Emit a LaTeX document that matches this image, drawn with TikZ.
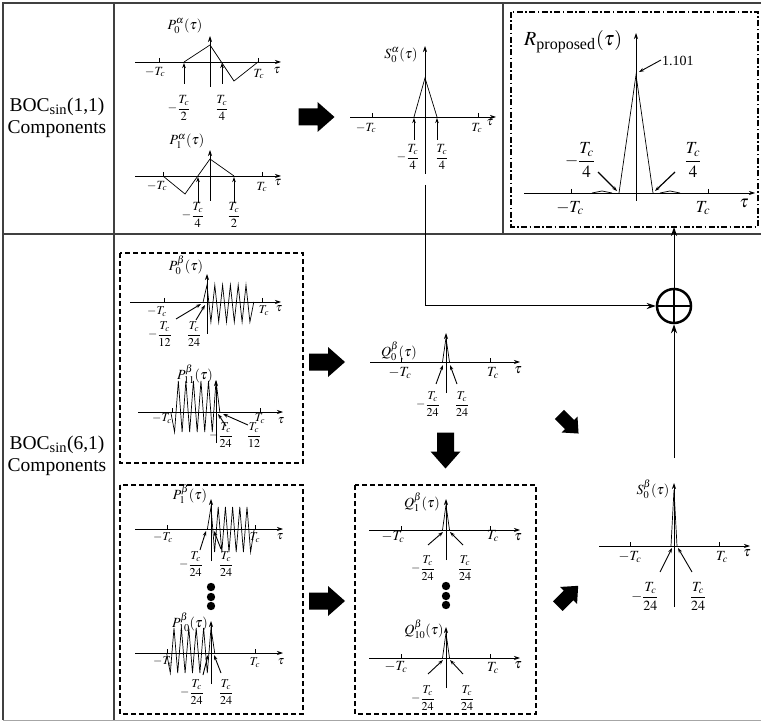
\documentclass[tikz,border=0pt]{standalone}
\usepackage{amsmath}
\usepackage{mathptmx}
\usepackage{fontspec}
\setmainfont{Liberation Serif}
\usetikzlibrary{arrows.meta}
\newcommand{\axs}[8]{%
  \draw[ax] (#1,#3) -- (#2,#3);
  \draw[ax] (#4,#5) -- (#4,#6);
  \draw[tk] (#7,#3-4) -- (#7,#3) (#8,#3-4) -- (#8,#3);}
\tikzset{
  ax/.style={line width=0.7pt,-{Stealth[length=6pt,width=4pt]}},
  cv/.style={line width=0.7pt},
  tk/.style={line width=0.7pt},
  ann/.style={line width=0.9pt,-{Stealth[length=5pt,width=3.5pt]}},
  ttl/.style={inner sep=0pt,font=\fontsize{14}{14}\selectfont},
  lb/.style={inner sep=0pt,font=\fontsize{12.5}{12.5}\selectfont},
  sm/.style={inner sep=0pt,font=\fontsize{12}{12}\selectfont},
  md/.style={inner sep=0pt,font=\fontsize{14}{14}\selectfont},
  bg/.style={inner sep=0pt,font=\fontsize{17}{17}\selectfont},
  dbox/.style={line width=1.4pt,dash pattern=on 5pt off 3pt},
  dashdotbox/.style={line width=1.4pt,dash pattern=on 6pt off 2.5pt on 1.5pt off 2.5pt},
  tbl/.style={line width=1.1pt,black!75},
  conn/.style={line width=1pt,-{Stealth[length=9pt,width=6pt]}},
  ltxt/.style={inner sep=0pt,align=center,font=\fontsize{19.5}{22}\selectfont},
  fatarr/.pic={\fill[black] (-18,-8.5) -- (1,-8.5) -- (1,-15) -- (18,0) -- (1,15) -- (1,8.5) -- (-18,8.5) -- cycle;}
}
\begin{document}
\begin{tikzpicture}[x=1pt,y=-1pt]
\useasboundingbox (0,0) rectangle (761,722);
% table
\draw[tbl] (2,3) -- (761,3);
\draw[tbl] (3,3) -- (3,720);
\draw[tbl] (114,3) -- (114,720);
\draw[tbl] (3,234) -- (761,234);
\draw[tbl] (503,3) -- (503,234);
\draw[line width=1pt,black!35] (3,720) -- (761,720);
\node[ltxt] (boc1) at (57,118) {BOC\textsubscript{sin}(1,1)\\Components};
\node[ltxt] (boc2) at (57,456) {BOC\textsubscript{sin}(6,1)\\Components};

% ---------- P0 alpha
\node[ttl] (p0a) at (185,26) {$P_0^{\alpha}(\tau)$};
\axs{135}{281}{62}{210}{87}{36}{159}{258}
\draw[cv] (184,62) -- (210,45) -- (234,81) -- (258,62);
\draw[ann] (184,84) -- (184,63);
\draw[ann] (222,84) -- (222,63);
\node[lb] (p0a-m) at (155,72) {$-T_c$};
\node[lb] (p0a-p) at (259,74) {$T_c$};
\node[lb] (p0a-t) at (277,71) {$\tau$};
\node[lb] (p0a-f1) at (179,108) {$-\dfrac{T_c}{2}$};
\node[lb] (p0a-f2) at (222,108) {$\dfrac{T_c}{4}$};

% ---------- P1 alpha
\node[ttl] (p1a) at (187,141) {$P_1^{\alpha}(\tau)$};
\axs{135}{281}{176}{210}{201}{150}{163}{262}
\draw[cv] (163,176) -- (185,194) -- (210,159) -- (234,176);
\draw[ann] (198,203) -- (198,177);
\draw[ann] (234,203) -- (234,177);
\node[lb] (p1a-m) at (157,186) {$-T_c$};
\node[lb] (p1a-p) at (262,187) {$T_c$};
\node[lb] (p1a-t) at (278,183) {$\tau$};
\node[lb] (p1a-f1) at (193,215) {$-\dfrac{T_c}{4}$};
\node[lb] (p1a-f2) at (234,215) {$\dfrac{T_c}{2}$};

% ---------- S0 alpha
\node[ttl] (s0a) at (401,55) {$S_0^{\alpha}(\tau)$};
\axs{350}{496}{117}{425}{174}{46}{372}{478}
\draw[cv] (414,117) -- (425,78) -- (437,117);
\draw[ann] (414,140) -- (414,118);
\draw[ann] (437,140) -- (437,118);
\node[lb] (s0a-m) at (366,128) {$-T_c$};
\node[lb] (s0a-p) at (477,128) {$T_c$};
\node[lb] (s0a-t) at (490,123) {$\tau$};
\node[lb] (s0a-f1) at (408,157) {$-\dfrac{T_c}{4}$};
\node[lb] (s0a-f2) at (442,157) {$\dfrac{T_c}{4}$};
\coordinate (s0a-out) at (425,185);

% ---------- R proposed
\draw[dashdotbox] (511,12) rectangle (758,227);
\node[anchor=base west,inner sep=0pt] (rlab) at (524,46) {{\fontsize{20}{20}\selectfont$R$}{\fontsize{16}{16}\selectfont\raisebox{-4pt}{proposed}}\hspace{1pt}{\fontsize{20}{20}\selectfont$(\tau)$}};
\axs{524}{755}{193}{636}{201}{33}{571}{708}
\draw[cv] (619,193) -- (636,75) -- (653,193);
\draw[cv] (592,193) -- (602,191) -- (612,193);
\draw[cv] (660,193) -- (670,191) -- (680,193);
\draw[ann,line width=1.2pt] (598,172) -- (617,191);
\draw[ann,line width=1.2pt] (675,172) -- (655,191);
\draw[ann] (661,60) -- (639,72);
\node[anchor=west,inner sep=0pt,font=\fontsize{14}{14}\selectfont] (v1101) at (662,61) {1.101};
\node[bg] (r-m) at (570,208) {$-T_c$};
\node[bg] (r-p) at (703,208) {$T_c$};
\node[bg] (r-t) at (744,203) {$\tau$};
\node[bg] (r-f1) at (580,160) {$-\dfrac{T_c}{4}$};
\node[bg] (r-f2) at (693,160) {$\dfrac{T_c}{4}$};
\coordinate (rbox-in) at (674,227);

% ---------- dashed boxes
\draw[dbox] (120,253) rectangle (303,463);
\draw[dbox] (120,485) rectangle (303,714);
\draw[dbox] (355,485) rectangle (536,714);

% ---------- P0 beta
\node[ttl] (p0b) at (186,265) {$P_0^{\beta}(\tau)$};
\axs{130}{281}{302}{207}{334}{274}{164}{262}
\draw[cv] (203.1,302) \foreach \k in {0,...,11}{ -- ({207+\k*3.9},{isodd(\k)*37+285}) } -- (253.8,302);
\node[sm] (p0b-m) at (157,312) {$-T_c$};
\node[sm] (p0b-p) at (264,311) {$T_c$};
\node[sm] (p0b-t) at (279,309) {$\tau$};
\node[sm] (p0b-f1) at (160,334) {$-\dfrac{T_c}{12}$};
\node[sm] (p0b-f2) at (194,334) {$\dfrac{T_c}{24}$};
\draw[ann] (176,319) -- (201,304);
\draw[ann] (196,320) -- (205,305);

% ---------- P11 beta
\node[ttl] (p11b) at (195,374) {$P_{11}^{\beta}(\tau)$};
\axs{138}{283}{412}{216}{443}{380}{172}{260}
\draw[cv] (170.8,412) \foreach \j in {1,...,12}{ -- ({170.8+\j*3.77},{isodd(\j)*51+381}) } -- (219.8,412);
\node[sm] (p11b-m) at (162,419) {$-T_c$};
\node[sm] (p11b-p) at (260,419) {$T_c$};
\node[sm] (p11b-t) at (281,421) {$\tau$};
\node[sm] (p11b-f1) at (221,435) {$-\dfrac{T_c}{24}$};
\node[sm] (p11b-f2) at (254,435) {$\dfrac{T_c}{12}$};
\draw[ann] (226,426) -- (218,414);
\draw[ann] (248,425) -- (223,414);

% ---------- P1 beta
\node[ttl] (p1b) at (190,494) {$P_1^{\beta}(\tau)$};
\axs{135}{283}{529}{211}{561}{499}{167}{255}
\draw[cv] (207.4,529) \foreach \k in {0,...,11}{ -- ({211+\k*3.6},{isodd(\k)*45+507}) } -- (254.2,529);
\node[sm] (p1b-m) at (163,538) {$-T_c$};
\node[sm] (p1b-p) at (255,538) {$T_c$};
\node[sm] (p1b-t) at (280,537) {$\tau$};
\node[sm] (p1b-f1) at (191,564) {$-\dfrac{T_c}{24}$};
\node[sm] (p1b-f2) at (226,564) {$\dfrac{T_c}{24}$};
\draw[ann] (200,550) -- (206,531);
\draw[ann] (221,549) -- (214,531);
\fill (211,587) circle (4.2) (211,597) circle (4.2) (211,606) circle (4.2);

% ---------- P10 beta
\node[ttl] (p10b) at (190,622) {$P_{10}^{\beta}(\tau)$};
\axs{135}{283}{653}{211}{684}{621}{167}{255}
\draw[cv] (166.6,653) \foreach \j in {1,...,12}{ -- ({166.6+\j*3.7},{isodd(\j)*45+628}) } -- (214.7,653);
\node[sm] (p10b-m) at (163,662) {$-T_c$};
\node[sm] (p10b-p) at (255,663) {$T_c$};
\node[sm] (p10b-t) at (281,662) {$\tau$};
\node[sm] (p10b-f1) at (192,692) {$-\dfrac{T_c}{24}$};
\node[sm] (p10b-f2) at (226,692) {$\dfrac{T_c}{24}$};
\draw[ann] (203,675) -- (208,655);
\draw[ann] (221,673) -- (214,655);

% ---------- Q0 beta
\node[ttl] (q0b) at (399,351) {$Q_0^{\beta}(\tau)$};
\axs{370}{520}{362}{446}{393}{333}{401}{490}
\draw[cv] (442.5,362) -- (446,338) -- (449.5,362);
\node[md] (q0b-m) at (400,373) {$-T_c$};
\node[md] (q0b-p) at (493,373) {$T_c$};
\node[md] (q0b-t) at (518,370) {$\tau$};
\node[sm] (q0b-f1) at (428,404) {$-\dfrac{T_c}{24}$};
\node[sm] (q0b-f2) at (462,404) {$\dfrac{T_c}{24}$};
\draw[ann] (436,384) -- (443,365);
\draw[ann] (457,384) -- (450,365);

% ---------- Q1 beta
\node[ttl] (q1b) at (422,502) {$Q_1^{\beta}(\tau)$};
\axs{369}{520}{530}{446}{560}{499}{401}{490}
\draw[cv] (442.5,530) -- (446,505) -- (449.5,530);
\node[md] (q1b-m) at (393,537) {$-T_c$};
\node[md] (q1b-p) at (493,536) {$T_c$};
\node[md] (q1b-t) at (518,537) {$\tau$};
\node[sm] (q1b-f1) at (423,568) {$-\dfrac{T_c}{24}$};
\node[sm] (q1b-f2) at (465,568) {$\dfrac{T_c}{24}$};
\draw[ann] (428,545) -- (443,532);
\draw[ann] (463,545) -- (450,532);
\fill (446,586) circle (4.2) (446,596) circle (4.2) (446,605) circle (4.2);

% ---------- Q10 beta
\node[ttl] (q10b) at (424,629) {$Q_{10}^{\beta}(\tau)$};
\axs{369}{520}{658}{446}{688}{627}{401}{490}
\draw[cv] (442.5,658) -- (446,633) -- (449.5,658);
\node[md] (q10b-m) at (396,667) {$-T_c$};
\node[md] (q10b-p) at (493,668) {$T_c$};
\node[md] (q10b-t) at (518,665) {$\tau$};
\node[sm] (q10b-f1) at (423,698) {$-\dfrac{T_c}{24}$};
\node[sm] (q10b-f2) at (467,698) {$\dfrac{T_c}{24}$};
\draw[ann] (428,674) -- (443,660);
\draw[ann] (463,674) -- (450,660);

% ---------- S0 beta
\node[ttl] (s0b) at (653,489) {$S_0^{\beta}(\tau)$};
\axs{599}{750}{546}{674}{607}{483}{630}{719}
\draw[cv] (671,546) -- (674,490) -- (677,546);
\node[md] (s0b-m) at (630,557) {$-T_c$};
\node[md] (s0b-p) at (722,557) {$T_c$};
\node[md] (s0b-t) at (747,553) {$\tau$};
\node[md] (s0b-f1) at (645,596) {$-\dfrac{T_c}{24}$};
\node[md] (s0b-f2) at (698,596) {$\dfrac{T_c}{24}$};
\draw[ann] (660,572) -- (672,548);
\draw[ann] (692,572) -- (678,548);
\coordinate (s0b-out) at (674,458);

% ---------- summation
\node[circle,draw,line width=2.5pt,minimum size=34pt,inner sep=0pt] (plus) at (674,306) {};
\draw[line width=2.5pt] (plus.north) -- (plus.south) (plus.west) -- (plus.east);
\draw[conn] (s0a-out) |- (plus.west);
\draw[conn] (s0b-out) -- (plus.south);
\draw[conn] (plus.north) -- (rbox-in);

% ---------- block arrows
\pic at (316.5,117) {fatarr};
\pic at (327,362) {fatarr};
\pic at (327,601) {fatarr};
\pic[rotate=-90] at (445.5,450.5) {fatarr};
\pic[rotate=-45,scale=0.75] at (569,424) {fatarr};
\pic[rotate=45,scale=0.8] at (568,596) {fatarr};
\end{tikzpicture}
\end{document}
